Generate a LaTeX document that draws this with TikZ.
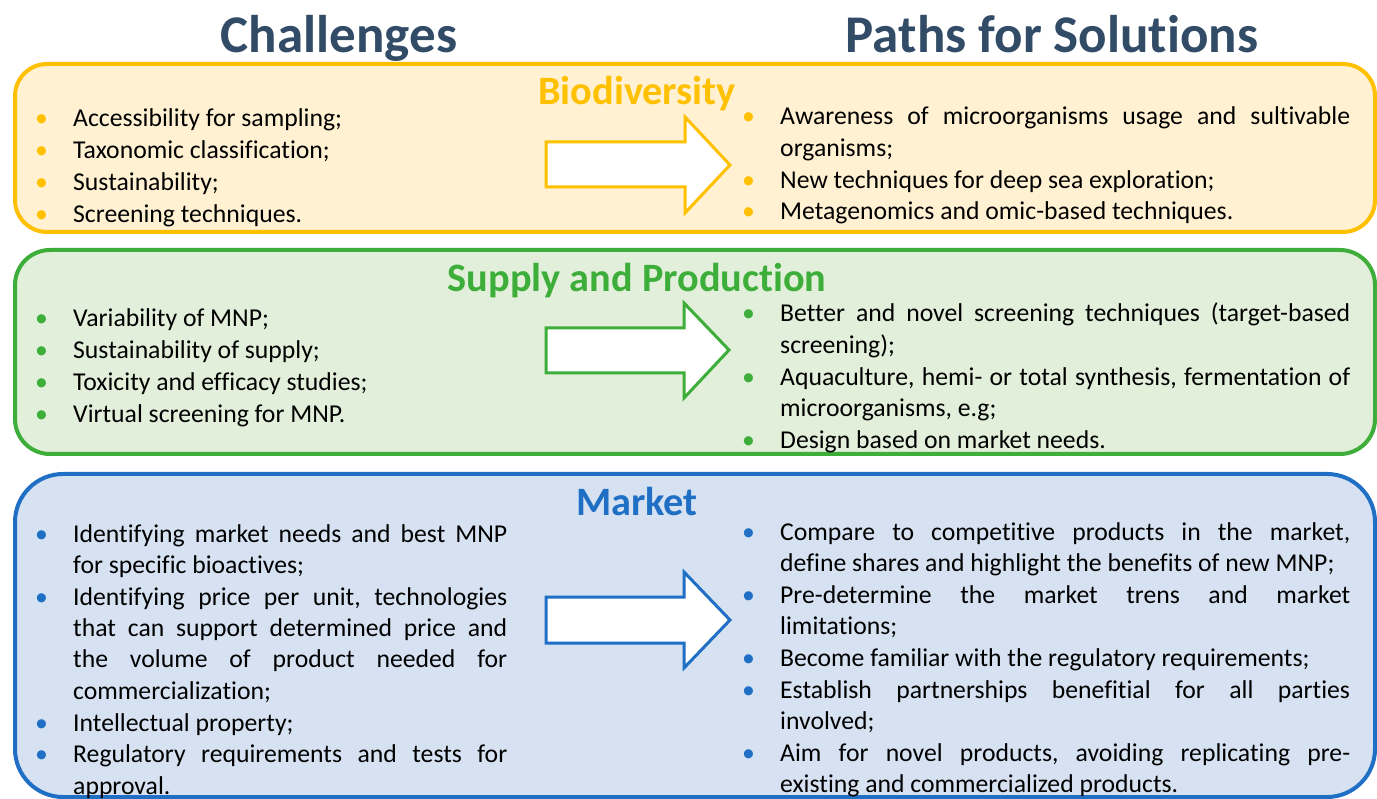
\documentclass[tikz,border=0pt]{standalone}
\usepackage{fontspec}
\setmainfont{Carlito}[Ligatures=NoCommon]
\definecolor{headc}{HTML}{324B67}
\definecolor{bioline}{HTML}{FFC000}
\definecolor{biofill}{HTML}{FFF1D2}
\definecolor{supline}{HTML}{3DAE3A}
\definecolor{supfill}{HTML}{E2EFDA}
\definecolor{mktline}{HTML}{1F6FC5}
\definecolor{mktfill}{HTML}{D6E2F2}
% one bulleted, justified paragraph; the bullet hangs in the left margin
\newcommand{\bitem}[2]{\noindent\llap{\makebox[38pt][l]{\textcolor{#1}{\textbullet}}}#2\par}
% paragraph settings for the bulleted columns
\newcommand{\listsetup}{\frenchspacing\tolerance=9999\relax\hyphenpenalty=10000\relax\parskip=0.4pt\relax}
\tikzset{
  x=1pt, y=-1pt,
  panel/.style={line width=4pt, rounded corners=#1},
  blockarrow/.style={line width=3pt, fill=white, line join=miter},
  heading/.style={anchor=base, inner sep=0pt, text=headc, font=\fontsize{53}{60}\selectfont\bfseries},
  sectitle/.style={anchor=base, inner sep=0pt, font=\fontsize{40.3}{48}\selectfont\bfseries},
  itemtext/.style={anchor=base west, inner sep=0pt, text width=#1, align=justify,
    font=\fontsize{25.7}{31.4}\selectfont},
}
\begin{document}
\begin{tikzpicture}
\useasboundingbox[fill=white] (0,0) rectangle (1377,799);

% column headings
\node[heading] (hchal) at (339,53) {Challenges};
\node[heading] (hpath) at (1052,53) {Paths for Solutions};

% ---------- Biodiversity ----------
\draw[panel=32, draw=bioline, fill=biofill] (15,64) rectangle (1375,232);
\node[sectitle, text=bioline] (tbio) at (637,105) {Biodiversity};
\draw[blockarrow, draw=bioline] (546,142) -- (685,142) -- (685,117) -- (730,165)
  -- (685,213) -- (685,187) -- (546,187) -- cycle;
\node[itemtext=434pt] (bioL) at (73,127) {\listsetup%
  \bitem{bioline}{Accessibility for sampling;}%
  \bitem{bioline}{Taxonomic classification;}%
  \bitem{bioline}{Sustainability;}%
  \bitem{bioline}{Screening techniques.}};
\node[itemtext=570pt] (bioR) at (780,125) {\listsetup%
  \bitem{bioline}{Awareness of microorganisms usage and sultivable\linebreak organisms;}%
  \bitem{bioline}{New techniques for deep sea exploration;}%
  \bitem{bioline}{Metagenomics and omic-based techniques.}};

% ---------- Supply and Production ----------
\draw[panel=35, draw=supline, fill=supfill] (15,250) rectangle (1375,454);
\node[sectitle, text=supline] (tsup) at (637,292) {Supply and Production};
\draw[blockarrow, draw=supline] (546,328) -- (684,328) -- (684,303) -- (729,350)
  -- (684,398) -- (684,373) -- (546,373) -- cycle;
\node[itemtext=434pt] (supL) at (73,327) {\listsetup%
  \bitem{supline}{Variability of MNP;}%
  \bitem{supline}{Sustainability of supply;}%
  \bitem{supline}{Toxicity and efficacy studies;}%
  \bitem{supline}{Virtual screening for MNP.}};
\node[itemtext=570pt] (supR) at (780,322) {\listsetup%
  \bitem{supline}{Better and novel screening techniques (target-based\linebreak screening);}%
  \bitem{supline}{Aquaculture, hemi- or total synthesis, fermentation of\linebreak microorganisms, e.g;}%
  \bitem{supline}{Design based on market needs.}};

% ---------- Market ----------
\draw[panel=48, draw=mktline, fill=mktfill] (15,474) rectangle (1375,797);
\node[sectitle, text=mktline] (tmkt) at (637,515) {Market};
\draw[blockarrow, draw=mktline] (546,597) -- (684,597) -- (684,572) -- (730,620)
  -- (684,668) -- (684,643) -- (546,643) -- cycle;
\node[itemtext=434pt] (mktL) at (73,542) {\listsetup%
  \bitem{mktline}{Identifying market needs and best MNP\linebreak for specific bioactives;}%
  \bitem{mktline}{Identifying price per unit, technologies\linebreak that can support determined price and\linebreak the volume of product needed for\linebreak commercialization;}%
  \bitem{mktline}{Intellectual property;}%
  \bitem{mktline}{Regulatory requirements and tests for\linebreak approval.}};
\node[itemtext=570pt] (mktR) at (780,540) {\listsetup%
  \bitem{mktline}{Compare to competitive products in the market,\linebreak define shares and highlight the benefits of new MNP;}%
  \bitem{mktline}{Pre-determine the market trens and market\linebreak limitations;}%
  \bitem{mktline}{Become familiar with the regulatory requirements;}%
  \bitem{mktline}{Establish partnerships benefitial for all parties\linebreak involved;}%
  \bitem{mktline}{Aim for novel products, avoiding replicating pre-\linebreak existing and commercialized products.}};
\end{tikzpicture}
\end{document}
